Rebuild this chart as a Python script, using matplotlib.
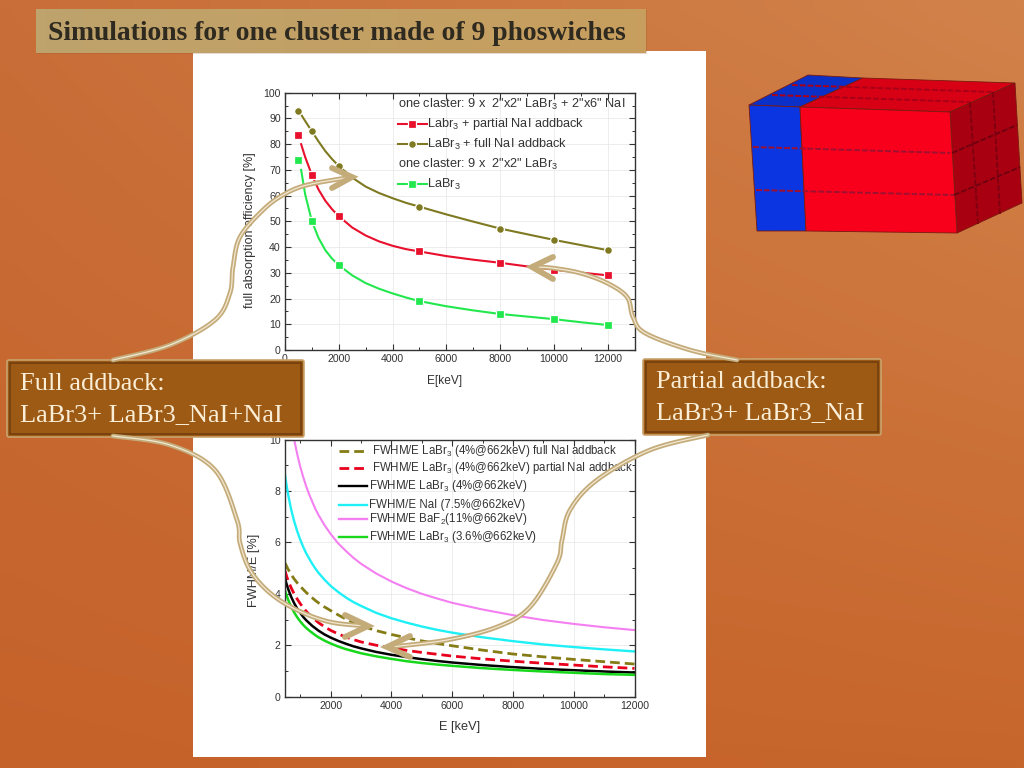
import numpy as np
import matplotlib
matplotlib.use("Agg")
import matplotlib.pyplot as plt
from matplotlib.patches import Polygon, Rectangle, FancyBboxPatch
from matplotlib.ticker import MultipleLocator

plt.rcParams['font.family'] = ['Liberation Sans', 'DejaVu Sans']
plt.rcParams['mathtext.default'] = 'regular'

# ---------- data: upper chart ----------
E_meas = [500, 1000, 2000, 5000, 8000, 10000, 12000]
partial_meas = [83.5, 68, 52, 38.3, 33.9, 31.2, 29]
full_meas = [93, 85, 71.5, 55.7, 47.2, 42.8, 38.8]
labr_meas = [74, 50, 33, 19, 14, 12, 9.7]

E_curve = [600, 750, 1000, 1250, 1500, 1750, 2000, 2500, 3000, 3500, 4000, 4500, 5000,
           6000, 7000, 8000, 9000, 10000, 11000, 12000]
partial_curve = [80, 75, 68, 62.3, 58, 54.7, 52, 47.6, 44.5, 42.2, 40.5, 39.2, 38.3,
                 36.5, 35.1, 33.9, 32.5, 31.2, 30.1, 29]
full_curve = [91.5, 89, 85, 81, 77.3, 74.2, 71.5, 67, 63.5, 61, 59, 57.2, 55.7,
              52.7, 49.9, 47.2, 45, 42.8, 40.8, 38.8]
labr_curve = [70, 60.5, 50, 43.5, 38.8, 35.5, 33, 29, 26, 23.8, 22, 20.4, 19,
              17, 15.4, 14, 13, 12, 10.8, 9.7]

# ---------- data: lower chart ----------
E_res = [500, 550, 600, 700, 800, 900, 1000, 1100, 1200, 1300, 1400, 1500, 1600, 1800, 2000, 2250,
         2500, 2750, 3000, 3500, 4000, 4500, 5000, 5500, 6000, 7000, 8000, 9000, 10000, 11000, 12000]
fwhm_full = [5.2, 5.08, 4.96, 4.76, 4.58, 4.43, 4.3, 4.17, 4.05, 3.94, 3.84, 3.74, 3.65, 3.49, 3.35, 3.18,
             3.02, 2.88, 2.76, 2.57, 2.42, 2.29, 2.17, 2.07, 1.98, 1.81, 1.66, 1.55, 1.45, 1.36, 1.27]
fwhm_partial = [4.9, 4.7, 4.52, 4.24, 4.0, 3.8, 3.62, 3.46, 3.32, 3.19, 3.08, 2.98, 2.88, 2.72, 2.58, 2.44,
                2.32, 2.22, 2.13, 2.0, 1.9, 1.8, 1.72, 1.65, 1.58, 1.47, 1.38, 1.3, 1.23, 1.16, 1.1]
fwhm_labr4 = [4.6, 4.39, 4.2, 3.89, 3.64, 3.43, 3.26, 3.1, 2.97, 2.86, 2.75, 2.66, 2.57, 2.42, 2.3, 2.17,
              2.06, 1.96, 1.88, 1.74, 1.63, 1.54, 1.46, 1.39, 1.33, 1.23, 1.15, 1.08, 1.03, 0.98, 0.94]
fwhm_nai = [8.63, 8.23, 7.88, 7.29, 6.83, 6.44, 6.11, 5.82, 5.57, 5.36, 5.16, 4.98, 4.82, 4.55, 4.31, 4.07,
            3.86, 3.68, 3.53, 3.26, 3.05, 2.88, 2.73, 2.6, 2.49, 2.31, 2.16, 2.03, 1.93, 1.84, 1.76]
fwhm_baf2 = [12.66, 12.07, 11.55, 10.69, 10.01, 9.44, 8.95, 8.54, 8.17, 7.85, 7.57, 7.3, 7.07, 6.67, 6.33, 5.96,
             5.67, 5.4, 5.17, 4.79, 4.48, 4.22, 4.0, 3.82, 3.65, 3.39, 3.17, 2.98, 2.83, 2.7, 2.59]
fwhm_labr36 = [4.14, 3.95, 3.78, 3.5, 3.28, 3.09, 2.93, 2.79, 2.67, 2.57, 2.48, 2.39, 2.31, 2.18, 2.07, 1.95,
               1.85, 1.77, 1.69, 1.57, 1.47, 1.38, 1.31, 1.25, 1.2, 1.11, 1.04, 0.98, 0.93, 0.88, 0.85]

title_text = "Simulations for one cluster made of 9 phoswiches"
full_box_lines = ["Full addback:", "LaBr3+ LaBr3_NaI+NaI"]
partial_box_lines = ["Partial addback:", "LaBr3+ LaBr3_NaI"]

W, H = 1024, 768
fig = plt.figure(figsize=(W / 100, H / 100), dpi=100)


def axes_px(x0, y0, x1, y1, **kw):
    return fig.add_axes([x0 / W, 1 - y1 / H, (x1 - x0) / W, (y1 - y0) / H], **kw)


def P(x, y):
    return (x / W, 1 - y / H)


# ---------- background ----------
bg = axes_px(0, 0, W, H, zorder=0)
corners = np.array([[[201, 110, 56], [209, 130, 74]], [[197, 98, 42], [199, 102, 44]]], float) / 255
gx, gy = np.meshgrid(np.linspace(0, 1, 64), np.linspace(0, 1, 48))
grad = ((1 - gy)[..., None] * ((1 - gx)[..., None] * corners[0, 0] + gx[..., None] * corners[0, 1])
        + gy[..., None] * ((1 - gx)[..., None] * corners[1, 0] + gx[..., None] * corners[1, 1]))
bg.imshow(grad, extent=(0, W, H, 0), aspect='auto', interpolation='bilinear')
bg.add_patch(Rectangle((193, 51), 513, 706, fc='white', ec='none'))
bg.add_patch(Rectangle((37, 10), 610, 44, fc='#8a4a20', ec='none', alpha=0.2))
tgrad = np.linspace(0, 1, 64)[None, :, None] * (np.array([199, 158, 94]) / 255 - np.array([190, 163, 108]) / 255) + np.array([190, 163, 108]) / 255
bg.imshow(tgrad, extent=(36, 646, 53, 9), aspect='auto', zorder=2)
bg.text(48, 33, title_text, family=['Liberation Serif'], weight='bold', fontsize=19.9,
        color='#2e2a20', va='center', ha='left', zorder=3)

# ---------- cube ----------
RED, BLUE, DRED = '#f8001c', '#0a35e0', '#a80010'
faces = [([(749, 105), (808, 75), (863, 78), (800, 107)], '#0a30c8'),
         ([(800, 107), (863, 78), (1015, 83), (950, 112)], '#d80014'),
         ([(950, 112), (1015, 83), (1022, 203), (957, 233)], DRED),
         ([(749, 105), (800, 107), (806, 231), (757, 231)], BLUE),
         ([(800, 107), (950, 112), (957, 233), (806, 231)], RED)]
for pts, c in faces:
    bg.add_patch(Polygon(pts, fc=c, ec='#7a1a10', lw=0.6, zorder=2))
for a, b, c in [((753, 147), (950, 153), '#a01030'), ((756, 190), (954, 195), '#a01030'),
                ((952, 153), (1017, 125), '#700010'), ((954, 195), (1020, 167), '#700010'),
                ((970, 102), (978, 224), '#800010'), ((993, 92), (1000, 214), '#800010'),
                ((772, 95), (970, 102), '#a80018'), ((792, 85), (993, 92), '#a80018')]:
    bg.plot([a[0], b[0]], [a[1], b[1]], color=c, lw=1.4, ls=(0, (3, 1)), zorder=3)
bg.set_xlim(0, W)
bg.set_ylim(H, 0)
bg.axis('off')

TXT = '#333333'


def style(ax):
    ax.tick_params(which='both', direction='in', top=True, right=True, color='#333333',
                   labelcolor=TXT, labelsize=7.6, pad=3)
    ax.tick_params(which='major', length=4.5, width=0.8)
    ax.tick_params(which='minor', length=2.5, width=0.7)
    for s in ax.spines.values():
        s.set_color('#333333')
        s.set_linewidth(1.0)
    ax.grid(True, which='major', color='#e6e6e6', lw=0.5)
    ax.set_axisbelow(True)


# ---------- upper chart ----------
ax1 = axes_px(285, 92.7, 634.5, 350, zorder=2)
style(ax1)
ax1.set_xlim(0, 13000)
ax1.set_ylim(0, 100)
ax1.xaxis.set_major_locator(MultipleLocator(2000))
ax1.xaxis.set_minor_locator(MultipleLocator(1000))
ax1.yaxis.set_major_locator(MultipleLocator(10))
ax1.yaxis.set_minor_locator(MultipleLocator(5))
for curve, meas, col, mk in [(partial_curve, partial_meas, '#e8102c', 's'),
                             (full_curve, full_meas, '#7f7a22', 'o'),
                             (labr_curve, labr_meas, '#22e84e', 's')]:
    ax1.plot(E_curve, curve, color=col, lw=1.5)
    ax1.plot(E_meas, meas, ls='none', marker=mk, ms=5.6, mfc=col, mec='white', mew=0.9, clip_on=False)
fig.text(*P(445, 381), 'E[keV]', color=TXT, fontsize=8.6, ha='center', va='center', zorder=3)
fig.text(*P(250, 230), 'full absorption efficiency [%]', color=TXT, fontsize=9, rotation=90,
         ha='center', va='center', zorder=3)

leg_fs = 9.2
fig.text(*P(398, 104.5), 'one claster: 9 x  2"x2" LaBr$_3$ + 2"x6" NaI', color=TXT, fontsize=leg_fs, va='center', zorder=3)
fig.text(*P(427, 124), 'Labr$_3$ + partial NaI addback', color=TXT, fontsize=leg_fs, va='center', zorder=3)
fig.text(*P(427, 144), 'LaBr$_3$ + full NaI addback', color=TXT, fontsize=leg_fs, va='center', zorder=3)
fig.text(*P(398, 164), 'one claster: 9 x  2"x2" LaBr$_3$', color=TXT, fontsize=leg_fs, va='center', zorder=3)
fig.text(*P(427, 184), 'LaBr$_3$', color=TXT, fontsize=leg_fs, va='center', zorder=3)
for y, col, mk in [(124, '#e8102c', 's'), (144, '#7f7a22', 'o'), (184, '#22e84e', 's')]:
    ax1.plot(*zip(P(398, y), P(427, y)), color=col, lw=1.5, transform=fig.transFigure, clip_on=False)
    ax1.plot(*zip(P(412, y)), ls='none', marker=mk, ms=5.6, mfc=col, mec='white', mew=0.9,
             transform=fig.transFigure, clip_on=False)

# ---------- lower chart ----------
ax2 = axes_px(285, 439.5, 634.5, 696.7, zorder=2)
style(ax2)
ax2.set_xlim(500, 12000)
ax2.set_ylim(0, 10)
ax2.xaxis.set_major_locator(MultipleLocator(2000))
ax2.xaxis.set_minor_locator(MultipleLocator(1000))
ax2.yaxis.set_major_locator(MultipleLocator(2))
ax2.yaxis.set_minor_locator(MultipleLocator(1))
res_lines = [(fwhm_baf2, '#f47ff0', '-', 1.5), (fwhm_nai, '#1ff0f5', '-', 1.7),
             (fwhm_full, '#857c16', (0, (3.5, 1.8)), 2.0), (fwhm_partial, '#e8001c', (0, (3.5, 1.8)), 2.0),
             (fwhm_labr4, '#000000', '-', 1.8), (fwhm_labr36, '#18d81c', '-', 1.8)]
for vals, col, ls, lw in res_lines:
    ax2.plot(E_res, vals, color=col, ls=ls, lw=lw)
fig.text(*P(460, 727), 'E [keV]', color=TXT, fontsize=9.2, ha='center', va='center', zorder=3)
fig.text(*P(254, 570), 'FWHM/E [%]', color=TXT, fontsize=9.2, rotation=90, ha='center', va='center', zorder=3)

res_leg = [(451, 372, 'FWHM/E LaBr$_3$ (4%@662keV) full NaI addback', '#857c16', (0, (3.5, 1.8))),
           (468, 372, 'FWHM/E LaBr$_3$ (4%@662keV) partial NaI addback', '#e8001c', (0, (3.5, 1.8))),
           (486, 369, 'FWHM/E LaBr$_3$ (4%@662keV)', '#000000', '-'),
           (505, 369, 'FWHM/E NaI (7.5%@662keV)', '#1ff0f5', '-'),
           (519, 369, 'FWHM/E BaF$_2$(11%@662keV)', '#f47ff0', '-'),
           (537, 369, 'FWHM/E LaBr$_3$ (3.6%@662keV)', '#18d81c', '-')]
for y, tx, label, col, ls in res_leg:
    fig.text(*P(tx, y), label, color=TXT, fontsize=8.3, va='center', zorder=3)
    ax2.plot(*zip(P(339, y), P(367, y)), color=col, ls=ls, lw=2.0 if ls != '-' else 1.7,
             transform=fig.transFigure, clip_on=False)

# ---------- overlay: connectors and call-outs ----------
ov = axes_px(0, 0, W, H, zorder=5)
ov.set_xlim(0, W)
ov.set_ylim(H, 0)
ov.axis('off')
ov.patch.set_alpha(0)


def smooth(pts, n=14):
    p = np.array([pts[0]] + list(pts) + [pts[-1]], float)
    out = []
    for i in range(1, len(p) - 2):
        for t in np.linspace(0, 1, n, endpoint=False):
            out.append(0.5 * (2 * p[i] + (p[i + 1] - p[i - 1]) * t
                              + (2 * p[i - 1] - 5 * p[i] + 4 * p[i + 1] - p[i + 2]) * t ** 2
                              + (3 * p[i] - p[i - 1] - 3 * p[i + 1] + p[i + 2]) * t ** 3))
    out.append(p[-2])
    return np.array(out)


TAN = '#c4ab7a'
connectors = [
    ([(113, 360), (170, 345), (215, 320), (230, 293), (233, 267), (240, 237), (263, 210), (283, 195), (307, 185), (352, 177)],
     [(332, 168), (352, 177), (332, 188)]),
    ([(737, 360), (690, 350), (645, 333), (633, 317), (627, 297), (607, 283), (580, 273), (552, 268), (534, 267)],
     [(553, 257), (532, 267), (553, 279)]),
    ([(113, 436), (170, 445), (215, 470), (237, 520), (240, 543), (250, 570), (270, 593), (297, 610), (330, 622), (366, 626)],
     [(345, 615), (368, 626), (345, 637)]),
    ([(708, 435), (650, 450), (597, 480), (570, 510), (562, 540), (557, 563), (530, 607), (497, 627), (447, 640), (390, 647)],
     [(410, 636), (387, 647), (410, 657)]),
]
for path, head in connectors:
    c = smooth(path)
    ov.plot(c[:, 0], c[:, 1], color=TAN, lw=3.4, solid_capstyle='round')
    ov.plot(c[:, 0], c[:, 1], color='#f2e8d2', lw=0.9)
    h = np.array(head)
    ov.plot(h[:, 0], h[:, 1], color=TAN, lw=4.2, solid_capstyle='round', solid_joinstyle='miter')

for (x0, y0, x1, y1), lines, tx, ys in [((7, 360, 304, 437), full_box_lines, 20, (384, 415)),
                                        ((643, 359, 881, 435), partial_box_lines, 656, (382, 413))]:
    ov.add_patch(FancyBboxPatch((x0, y0), x1 - x0, y1 - y0, boxstyle='round,pad=0,rounding_size=2',
                                fc='#9c5a15', ec='#c9a46e', lw=1.2))
    ov.add_patch(Rectangle((x0 + 3, y0 + 3), x1 - x0 - 6, y1 - y0 - 6, fc='none', ec='#6e3d0c', lw=1.1))
    for line, y in zip(lines, ys):
        ov.text(tx, y, line, family=['Liberation Serif'], fontsize=19, color='#fbeed6', va='center', ha='left')

fig.savefig('out.png', dpi=100)
